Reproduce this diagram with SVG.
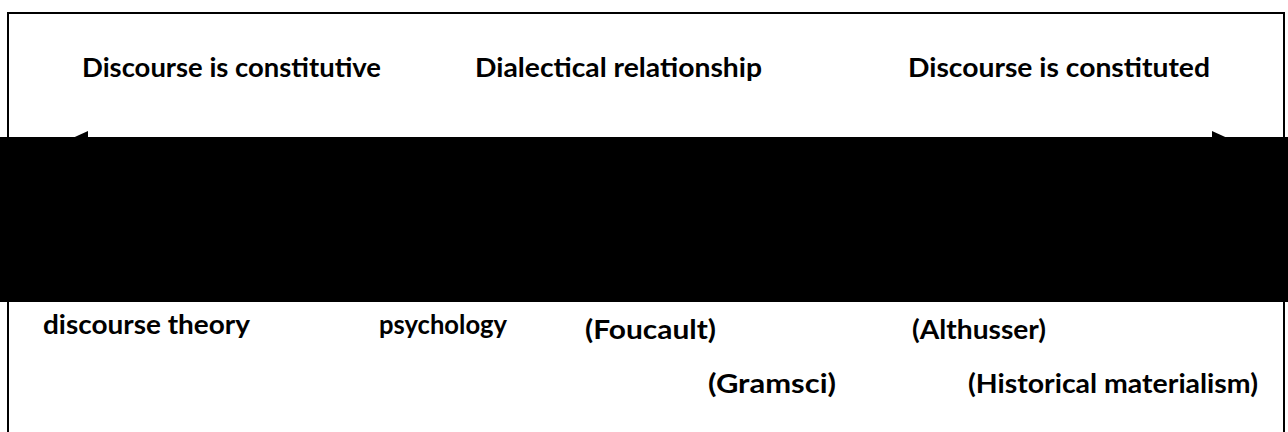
<svg xmlns="http://www.w3.org/2000/svg" width="1288" height="432" viewBox="0 0 1288 432">
  <style>
    .lbl { font-family: Lato, "Open Sans", "Liberation Sans", sans-serif; font-weight: 700; font-size: 27px; fill: #000; }
    .frame { fill: none; stroke: #000; stroke-width: 2; }
    .axis { stroke: #000; stroke-width: 2; fill: none; }
  </style>
  <defs>
    <marker id="head" viewBox="0 0 22 20" refX="0" refY="10" markerWidth="22" markerHeight="20" markerUnits="userSpaceOnUse" orient="auto-start-reverse">
      <path d="M22,10 L0,0 L0,20 Z" fill="#000"/>
    </marker>
  </defs>

  <rect width="1288" height="432" fill="#fff"/>
  <rect class="frame" x="8" y="13" width="1276" height="440"/>

  <!-- continuum axis between the two poles -->
  <g id="connectors">
    <line class="axis" x1="88" y1="141" x2="1212" y2="141" marker-start="url(#head)" marker-end="url(#head)"/>
  </g>

  <!-- column headings -->
  <g id="pole-constitutive">
    <text class="lbl" x="82" y="77" textLength="299" lengthAdjust="spacingAndGlyphs">Discourse is constitutive</text>
  </g>
  <g id="pole-dialectical">
    <text class="lbl" x="475" y="77" textLength="287" lengthAdjust="spacingAndGlyphs">Dialectical relationship</text>
  </g>
  <g id="pole-constituted">
    <text class="lbl" x="908" y="77" textLength="302" lengthAdjust="spacingAndGlyphs">Discourse is constituted</text>
  </g>

  <!-- approaches along the continuum -->
  <g id="discourse-theory">
    <text class="lbl" x="43" y="334" textLength="207" lengthAdjust="spacingAndGlyphs">discourse theory</text>
  </g>
  <g id="psychology">
    <text class="lbl" x="379" y="334" textLength="128" lengthAdjust="spacingAndGlyphs">psychology</text>
  </g>
  <g id="foucault">
    <text class="lbl" x="585" y="339" textLength="131" lengthAdjust="spacingAndGlyphs">(Foucault)</text>
  </g>
  <g id="gramsci">
    <text class="lbl" x="708" y="393" textLength="128" lengthAdjust="spacingAndGlyphs">(Gramsci)</text>
  </g>
  <g id="althusser">
    <text class="lbl" x="912" y="339" textLength="134" lengthAdjust="spacingAndGlyphs">(Althusser)</text>
  </g>
  <g id="historical-materialism">
    <text class="lbl" x="968" y="393" textLength="290" lengthAdjust="spacingAndGlyphs">(Historical materialism)</text>
  </g>

  <!-- solid band across the middle -->
  <rect x="0" y="137" width="1288" height="165" fill="#000"/>
</svg>
